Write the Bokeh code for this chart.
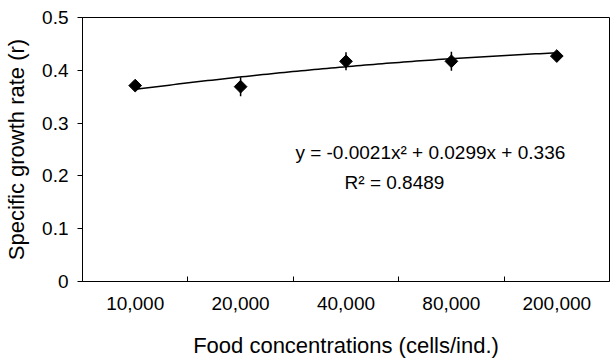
import numpy as np
from bokeh.plotting import figure
from bokeh.models import Range1d, FixedTicker, Label, ColumnDataSource
from bokeh.embed import file_html
from bokeh.resources import INLINE

# data
categories = ["10,000", "20,000", "40,000", "80,000", "200,000"]
growth_rate = [0.371, 0.369, 0.417, 0.417, 0.427]
growth_err = [0.005, 0.018, 0.017, 0.018, 0.008]
y_ticks = [0, 0.1, 0.2, 0.3, 0.4, 0.5]
# trend line coefficients as printed on the chart (x = category index 1..5)
coef_a, coef_b, coef_c = -0.0021, 0.0299, 0.336
equation_text = "y = -0.0021x\u00b2 + 0.0299x + 0.336"
r2_text = "R\u00b2 = 0.8489"

FONT = "Liberation Sans"

xs = list(range(1, len(categories) + 1))
src = ColumnDataSource(dict(
    x=xs, y=growth_rate,
    lo=[v - e for v, e in zip(growth_rate, growth_err)],
    hi=[v + e for v, e in zip(growth_rate, growth_err)],
))

p = figure(width=610, height=363, output_backend="svg", toolbar_location=None,
           x_range=Range1d(0.5, len(categories) + 0.5), y_range=Range1d(0, 0.5),
           min_border_left=82, min_border_right=1, min_border_top=17, min_border_bottom=82)
p.grid.visible = False
p.outline_line_color = "black"
p.outline_line_width = 1
p.background_fill_color = "white"
p.border_fill_color = "white"

# x axis
xa = p.xaxis[0]
xa.ticker = FixedTicker(ticks=xs, minor_ticks=[i + 0.5 for i in xs[:-1]])
xa.major_label_overrides = {i: c for i, c in zip(xs, categories)}
xa.major_tick_in = 0
xa.major_tick_out = 0
xa.minor_tick_in = 5
xa.minor_tick_out = 0
xa.minor_tick_line_color = "black"
xa.axis_line_color = "black"
xa.major_label_standoff = 15
xa.major_label_text_font = FONT
xa.major_label_text_font_size = "19px"
xa.major_label_text_color = "black"
xa.axis_label = "Food concentrations (cells/ind.)"
xa.axis_label_text_font = FONT
xa.axis_label_text_font_size = "22px"
xa.axis_label_text_font_style = "normal"
xa.axis_label_text_color = "black"
xa.axis_label_standoff = 20

# y axis
ya = p.yaxis[0]
ya.ticker = FixedTicker(ticks=y_ticks, minor_ticks=[])
ya.major_label_overrides = {0: "0"}
ya.major_tick_in = 0
ya.major_tick_out = 5
ya.axis_line_color = "black"
ya.major_tick_line_color = "black"
ya.major_label_standoff = 9
ya.major_label_text_font = FONT
ya.major_label_text_font_size = "19px"
ya.major_label_text_color = "black"
ya.axis_label = "Specific growth rate (r)"
ya.axis_label_text_font = FONT
ya.axis_label_text_font_size = "22px"
ya.axis_label_text_font_style = "normal"
ya.axis_label_text_color = "black"
ya.axis_label_standoff = 10

# trend line
tx = np.linspace(1, len(categories), 100)
ty = coef_a * tx ** 2 + coef_b * tx + coef_c
p.line(tx, ty, line_color="black", line_width=1.5)

# error bars
p.segment(x0="x", y0="lo", x1="x", y1="hi", source=src, line_color="black", line_width=1.5)

# markers
p.scatter("x", "y", source=src, marker="square", angle=np.pi / 4, size=9,
          fill_color="black", line_color="black")

p.add_layout(Label(x=3.80, y=0.244, text=equation_text, text_align="center",
                   text_baseline="middle", text_font=FONT, text_font_size="19px",
                   text_color="black"))
p.add_layout(Label(x=3.46, y=0.1875, text=r2_text, text_align="center",
                   text_baseline="middle", text_font=FONT, text_font_size="19px",
                   text_color="black"))

open("out.html", "w").write(file_html(p, INLINE))
